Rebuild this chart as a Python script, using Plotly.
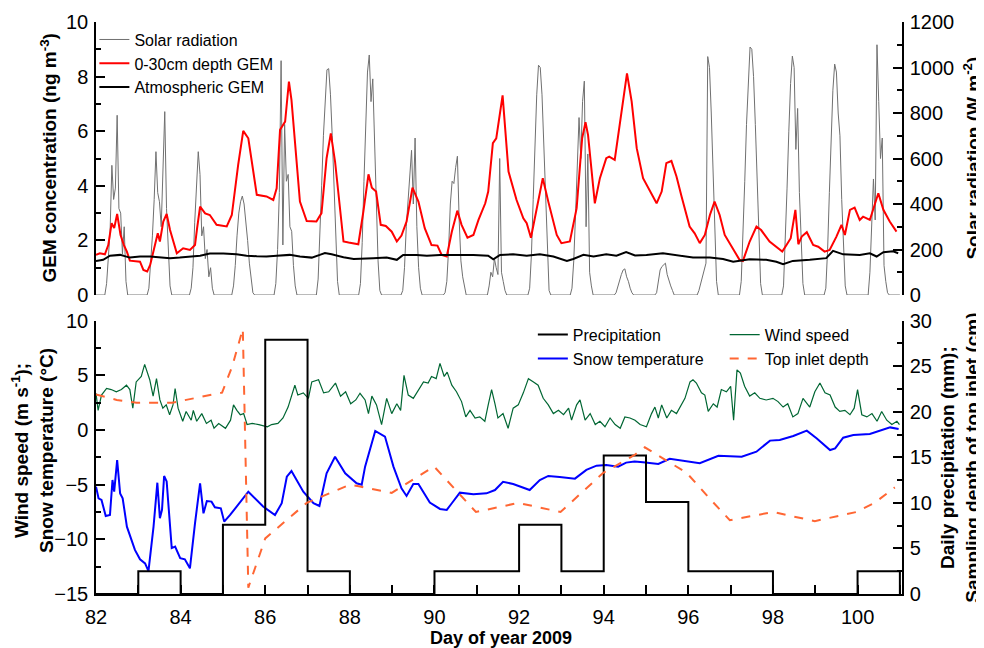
import plotly.graph_objects as go

# ---------------- DATA ----------------
# Solar radiation (W m-2), hourly readings from 05:00 to 19:00 for each day 82..100
solar_days = list(range(82, 101))
solar_hours = [5, 6, 7, 8, 9, 10, 11, 12, 13, 14, 15, 16, 17, 18, 19]
solar_hourly = [
    [0, 50, 150, 280, 570, 420, 470, 790, 380, 360, 180, 300, 60, 0, 0],      # 82
    [0, 30, 130, 260, 420, 630, 450, 410, 300, 600, 806, 380, 180, 40, 0],    # 83
    [0, 30, 120, 320, 450, 630, 530, 260, 300, 160, 200, 80, 120, 30, 0],     # 84
    [0, 40, 130, 260, 360, 410, 435, 400, 330, 240, 140, 60, 10, 0, 0],       # 85
    [0, 50, 200, 450, 1030, 220, 750, 500, 530, 300, 280, 130, 40, 0, 0],     # 86
    [0, 70, 250, 480, 700, 860, 990, 995, 880, 700, 470, 240, 60, 0, 0],      # 87
    [0, 50, 230, 500, 800, 980, 1055, 850, 950, 650, 400, 150, 20, 0, 0],     # 88
    [0, 20, 120, 300, 420, 520, 636, 400, 690, 300, 120, 30, 0, 0, 0],        # 89
    [0, 10, 60, 200, 400, 500, 490, 560, 610, 330, 150, 80, 30, 0, 0],        # 90
    [0, 0, 40, 100, 80, 160, 120, 90, 600, 100, 60, 20, 0, 0, 0],             # 91
    [0, 30, 180, 420, 680, 880, 1010, 1000, 880, 660, 400, 160, 20, 0, 0],    # 92
    [0, 30, 150, 350, 550, 780, 600, 850, 940, 300, 620, 100, 40, 0, 0],      # 93
    [0, 0, 10, 40, 70, 90, 110, 115, 80, 60, 30, 10, 0, 0, 0],                # 94
    [0, 10, 60, 110, 125, 135, 140, 90, 60, 40, 20, 0, 0, 0, 0],              # 95
    [0, 20, 50, 80, 110, 140, 1048, 1000, 800, 530, 260, 60, 0, 0, 0],        # 96
    [0, 60, 250, 500, 750, 960, 1090, 1080, 960, 750, 490, 240, 50, 0, 0],    # 97
    [0, 40, 220, 470, 720, 930, 1050, 1000, 640, 820, 450, 220, 50, 0, 0],    # 98
    [0, 30, 200, 450, 700, 900, 1015, 980, 800, 700, 420, 200, 40, 0, 0],     # 99
    [0, 0, 100, 300, 510, 330, 1100, 850, 600, 690, 130, 60, 10, 0, 0],       # 100
]

# 0-30 cm depth GEM (ng m-3)
depth_gem_day = [82.0, 82.09, 82.21, 82.29, 82.37, 82.43, 82.5, 82.58, 82.66, 82.73, 82.8, 82.92, 83.04, 83.12,
                 83.21, 83.28, 83.4, 83.46, 83.51, 83.59, 83.67, 83.75, 83.91, 84.06, 84.22, 84.34, 84.39, 84.46,
                 84.58, 84.69, 84.85, 84.97, 85.09, 85.21, 85.36, 85.48, 85.6, 85.8, 86.03, 86.19, 86.27, 86.35,
                 86.47, 86.56, 86.62, 86.82, 86.98, 87.21, 87.33, 87.45, 87.55, 87.65, 87.85, 87.97, 88.2, 88.32,
                 88.44, 88.52, 88.62, 88.73, 88.85, 88.99, 89.11, 89.22, 89.34, 89.48, 89.62, 89.77, 89.93, 90.07,
                 90.17, 90.29, 90.41, 90.54, 90.64, 90.78, 90.92, 91.04, 91.2, 91.27, 91.38, 91.46, 91.61, 91.75,
                 91.94, 92.1, 92.18, 92.28, 92.41, 92.56, 92.69, 92.89, 93.0, 93.2, 93.36, 93.49, 93.57, 93.63,
                 93.79, 93.91, 94.06, 94.13, 94.26, 94.38, 94.55, 94.66, 94.78, 94.93, 95.13, 95.25, 95.37, 95.48,
                 95.6, 95.72, 95.84, 96.03, 96.15, 96.27, 96.39, 96.51, 96.62, 96.74, 96.86, 97.02, 97.21, 97.29,
                 97.45, 97.61, 97.72, 97.92, 98.08, 98.22, 98.32, 98.42, 98.53, 98.6, 98.68, 98.8, 98.95, 99.07,
                 99.22, 99.34, 99.5, 99.62, 99.7, 99.82, 99.93, 100.05, 100.13, 100.29, 100.49, 100.61, 100.76,
                 100.92]
depth_gem = [1.47, 1.53, 1.49, 1.83, 2.63, 2.45, 2.97, 2.2, 1.83, 1.59, 1.26, 1.25, 1.22, 0.92,
             0.86, 1.1, 1.83, 2.26, 1.96, 2.69, 2.97, 2.38, 1.53, 1.71, 1.65, 1.83, 2.45, 3.24,
             2.99, 2.93, 2.57, 2.54, 2.51, 2.93, 4.77, 6.01, 5.74, 3.67, 3.61, 3.48, 3.91, 6.05,
             6.35, 7.82, 7.15, 3.42, 2.71, 2.69, 3.0, 5.01, 5.92, 4.89, 1.96, 1.92, 1.86, 3.06,
             4.42, 3.93, 3.79, 2.57, 2.53, 2.32, 1.96, 2.18, 2.69, 3.93, 3.42, 2.45, 1.83, 1.81,
             1.47, 1.41, 2.32, 3.09, 2.57, 2.1, 2.2, 2.75, 3.36, 3.79, 5.56, 5.74, 7.31, 4.52,
             3.48, 2.81, 2.63, 2.1, 3.06, 4.28, 3.42, 2.2, 1.9, 1.96, 3.18, 5.74, 6.33, 5.86,
             3.36, 4.28, 5.01, 5.07, 4.95, 6.23, 8.12, 7.09, 5.38, 4.28, 3.73, 3.36, 3.79, 4.83,
             4.91, 4.34, 3.61, 2.51, 2.26, 1.9, 2.2, 2.93, 3.42, 2.93, 2.2, 1.77, 1.29, 1.25,
             1.96, 2.51, 2.38, 1.96, 1.77, 1.59, 1.83, 2.08, 3.12, 1.86, 2.14, 2.3, 1.83, 1.77,
             1.59, 1.65, 2.14, 2.57, 2.2, 3.12, 3.2, 2.75, 2.87, 2.75, 3.73, 3.12, 2.69,
             2.32]

# Atmospheric GEM (ng m-3)
atm_gem_day = [82.0, 82.17, 82.33, 82.57, 82.8, 83.04, 83.28, 83.55, 83.75, 83.98, 84.22, 84.46, 84.69, 85.01,
               85.32, 85.56, 85.8, 86.03, 86.27, 86.58, 86.82, 87.1, 87.29, 87.41, 87.57, 87.85, 88.09, 88.33,
               88.55, 88.87, 89.11, 89.26, 89.58, 89.82, 90.13, 90.52, 90.92, 91.27, 91.39, 91.55, 91.86, 92.18,
               92.49, 92.81, 93.13, 93.28, 93.52, 93.76, 94.06, 94.3, 94.53, 94.74, 95.01, 95.4, 95.72, 96.11,
               96.51, 96.82, 97.06, 97.45, 97.84, 98.08, 98.24, 98.47, 98.87, 99.26, 99.42, 99.66, 100.05,
               100.29, 100.45, 100.61, 100.84, 100.96]
atm_gem = [1.25, 1.29, 1.44, 1.47, 1.37, 1.41, 1.41, 1.37, 1.35, 1.37, 1.40, 1.44, 1.52, 1.52,
           1.49, 1.44, 1.42, 1.41, 1.44, 1.47, 1.41, 1.37, 1.47, 1.54, 1.49, 1.38, 1.32, 1.35,
           1.35, 1.37, 1.29, 1.47, 1.47, 1.44, 1.47, 1.47, 1.47, 1.44, 1.31, 1.47, 1.49, 1.44,
           1.49, 1.41, 1.25, 1.32, 1.47, 1.41, 1.49, 1.44, 1.57, 1.45, 1.47, 1.53, 1.47, 1.37,
           1.37, 1.32, 1.22, 1.31, 1.29, 1.22, 1.13, 1.25, 1.29, 1.35, 1.62, 1.49, 1.47,
           1.53, 1.41, 1.57, 1.6, 1.53]

# Daily precipitation (mm), day start edges
precip_day = [82, 83, 84, 85, 86, 87, 88, 89, 90, 91, 92, 93, 94, 95, 96, 97, 98, 99, 100, 101]
precip_mm = [0, 2.5, 0, 7.6, 27.9, 2.5, 0, 0, 2.5, 2.5, 7.6, 2.5, 15.2, 10.1, 2.5, 2.5, 0, 0, 2.5, 0]

# Sampling depth of top inlet (cm)
inlet_day = [82.0, 82.49, 82.96, 83.8, 84.98, 85.22, 85.47, 85.6, 85.8, 86.0, 86.98, 88.0, 88.24, 88.99, 89.99,
             90.98, 91.98, 92.98, 93.99, 94.74, 94.97, 95.96, 96.5, 96.98, 98.0, 98.99, 99.97, 100.4, 100.88]
inlet_cm = [21.9, 21.3, 21.0, 21.0, 22.1, 25.0, 29.1, 0.7, 3.4, 6.1, 10.0, 12.0, 11.8, 11.1, 14.0,
            9.0, 10.0, 9.0, 13.3, 15.3, 16.1, 13.3, 10.5, 8.1, 9.0, 8.0, 9.0, 10.0, 11.7]

# Snow temperature (deg C)
snow_day = [82.0, 82.06, 82.13, 82.23, 82.33, 82.39, 82.43, 82.5, 82.57, 82.63, 82.73, 82.84, 82.92, 83.04,
            83.16, 83.24, 83.36, 83.45, 83.51, 83.56, 83.61, 83.67, 83.79, 83.87, 83.99, 84.1, 84.22, 84.34,
            84.46, 84.54, 84.62, 84.73, 84.81, 84.95, 85.03, 85.17, 85.32, 85.6, 85.95, 86.23, 86.39, 86.51,
            86.62, 86.9, 87.14, 87.28, 87.45, 87.65, 87.89, 88.16, 88.28, 88.36, 88.6, 88.71, 88.83, 89.03,
            89.22, 89.34, 89.5, 89.62, 89.89, 90.13, 90.29, 90.41, 90.6, 90.92, 91.23, 91.43, 91.62, 91.86,
            92.25, 92.49, 92.69, 92.96, 93.32, 93.59, 93.83, 94.06, 94.34, 94.53, 94.73, 94.93, 95.29, 95.56,
            95.88, 96.27, 96.71, 97.26, 97.61, 97.93, 98.16, 98.48, 98.8, 99.03, 99.35, 99.47, 99.66, 99.9,
            100.29, 100.61, 100.77, 100.97]
snow_temp = [-5.18, -6.24, -6.4, -7.86, -7.77, -4.57, -5.64, -2.74, -5.8, -6.24, -8.84, -10.06, -10.97, -11.83,
             -12.2, -12.9, -8.84, -4.82, -8.07, -7.3, -4.2, -4.7, -10.8, -10.66, -11.73, -11.83, -12.65, -8.53,
             -4.87, -7.62, -6.5, -6.55, -7.07, -7.16, -8.38, -7.77, -7.0, -5.64, -7.0, -7.77, -6.7, -4.27,
             -3.75, -5.64, -6.7, -6.95, -3.96, -2.44, -3.96, -4.87, -5.0, -3.35, -0.09, -0.3, -0.6, -3.35,
             -5.33, -6.03, -4.94, -4.94, -6.64, -7.22, -7.31, -6.7, -5.73, -5.88, -5.79, -5.49, -4.73, -4.94,
             -5.49, -4.57, -4.2, -4.3, -4.45, -3.65, -3.26, -3.2, -3.35, -2.98, -2.89, -2.95, -3.1, -2.64,
             -2.83, -3.04, -2.35, -2.44, -1.98, -0.97, -0.91, -0.55, -0.06, -0.76, -1.83, -1.68, -0.7, -0.46,
             -0.37, 0.0, 0.24, 0.09]

# Wind speed (m s-1)
wind_day = [82.0, 82.05, 82.13, 82.25, 82.36, 82.48, 82.6, 82.72, 82.8, 82.87, 82.95, 83.07, 83.15, 83.22,
            83.27, 83.35, 83.43, 83.51, 83.58, 83.66, 83.74, 83.82, 83.87, 83.94, 84.05, 84.13, 84.25, 84.3,
            84.38, 84.5, 84.61, 84.72, 84.79, 84.9, 85.06, 85.18, 85.25, 85.33, 85.41, 85.49, 85.57, 85.69,
            85.85, 86.05, 86.15, 86.3, 86.42, 86.54, 86.62, 86.7, 86.77, 86.9, 87.02, 87.1, 87.26, 87.38,
            87.5, 87.66, 87.78, 87.9, 88.02, 88.14, 88.24, 88.36, 88.44, 88.52, 88.63, 88.75, 88.87, 88.99,
            89.11, 89.2, 89.28, 89.38, 89.5, 89.62, 89.74, 89.85, 89.93, 90.04, 90.13, 90.23, 90.3, 90.41,
            90.52, 90.64, 90.74, 90.84, 90.96, 91.07, 91.19, 91.27, 91.35, 91.43, 91.5, 91.62, 91.74, 91.86,
            91.98, 92.1, 92.22, 92.34, 92.45, 92.57, 92.69, 92.81, 92.93, 93.05, 93.17, 93.24, 93.36, 93.44,
            93.56, 93.68, 93.8, 93.91, 94.03, 94.15, 94.27, 94.39, 94.5, 94.62, 94.74, 94.86, 95.01, 95.13,
            95.21, 95.29, 95.37, 95.49, 95.6, 95.72, 95.84, 95.92, 96.04, 96.11, 96.19, 96.31, 96.39, 96.47,
            96.59, 96.68, 96.78, 96.9, 97.0, 97.07, 97.15, 97.23, 97.33, 97.45, 97.57, 97.69, 97.84, 98.0,
            98.12, 98.24, 98.35, 98.47, 98.59, 98.71, 98.87, 98.99, 99.11, 99.23, 99.35, 99.47, 99.58, 99.7,
            99.82, 99.92, 100.0, 100.1, 100.22, 100.34, 100.46, 100.57, 100.69, 100.81, 100.93, 100.99]
wind_speed = [3.36, 1.8, 3.2, 3.8, 3.7, 3.5, 3.7, 4.1, 3.7, 2.0, 4.4, 4.9, 6.0, 5.2,
              4.6, 3.1, 4.7, 2.75, 2.0, 2.3, 1.4, 2.3, 3.8, 2.0, 0.8, 1.7, 0.9, 1.8,
              0.8, 1.5, 0.6, 0.9, 0.16, 0.6, 0.16, 0.9, 2.3, 1.8, 1.4, 1.5, 0.5, 0.6,
              0.5, 0.3, 0.5, 0.6, 1.1, 2.1, 3.1, 4.1, 3.2, 3.4, 2.9, 4.4, 4.6, 3.4,
              3.5, 4.3, 3.1, 3.5, 2.4, 2.75, 3.36, 2.75, 1.5, 3.1, 2.3, 0.5, 2.9, 1.5,
              2.4, 1.8, 5.0, 3.2, 2.9, 3.7, 4.4, 4.3, 4.9, 4.7, 6.1, 4.9, 5.3, 4.1,
              3.5, 2.6, 1.2, 1.8, 1.1, 1.2, 0.8, 2.3, 3.7, 2.4, 1.1, 1.5, 0.16, 2.0,
              2.3, 3.4, 4.7, 4.4, 4.1, 2.9, 2.3, 1.5, 1.8, 1.4, 2.0, 0.9, 2.3, 2.75,
              0.9, 1.5, 0.5, 0.8, 0.3, 1.1, 0.5, 0.16, 1.2, 1.1, 0.9, 0.5, 0.3, 1.5,
              2.1, 1.1, 2.3, 1.1, 1.8, 1.5, 2.3, 2.9, 4.4, 4.6, 4.3, 3.4, 3.2, 1.7,
              2.4, 2.1, 3.7, 3.5, 4.0, 0.9, 5.5, 5.2, 4.0, 3.1, 3.4, 2.9, 2.75, 2.9,
              2.6, 2.1, 2.4, 1.2, 1.5, 2.9, 2.1, 3.5, 4.3, 3.4, 3.2, 2.1, 1.7, 1.8,
              1.4, 2.0, 3.7, 1.4, 1.2, 1.5, 0.8, 1.7, 0.9, 0.5, 0.8, 0.5]

# ---------------- BUILD ----------------
solar_t = [82.0]
solar_v = [0]
for d, row in zip(solar_days, solar_hourly):
    for h, v in zip(solar_hours, row):
        solar_t.append(d + h / 24.0)
        solar_v.append(v)
solar_t.append(101.0)
solar_v.append(0)

FONT = "Liberation Sans, Arial, Helvetica, sans-serif"
TOP_DOM = [0.5227, 1.0]
BOT_DOM = [0.0, 0.4778]

fig = go.Figure()

# top panel
fig.add_trace(go.Scatter(x=solar_t, y=solar_v, xaxis="x2", yaxis="y", mode="lines",
                         name="Solar radiation", line=dict(color="#707070", width=1), legend="legend"))
fig.add_trace(go.Scatter(x=depth_gem_day, y=depth_gem, xaxis="x2", yaxis="y2", mode="lines",
                         name="0-30cm depth GEM", line=dict(color="#FF0000", width=2), legend="legend"))
fig.add_trace(go.Scatter(x=atm_gem_day, y=atm_gem, xaxis="x2", yaxis="y2", mode="lines",
                         name="Atmospheric GEM", line=dict(color="#000000", width=2), legend="legend"))

# bottom panel
fig.add_trace(go.Scatter(x=wind_day, y=wind_speed, xaxis="x", yaxis="y3", mode="lines",
                         name="Wind speed", line=dict(color="#006633", width=1.2), legend="legend3"))
fig.add_trace(go.Scatter(x=snow_day, y=snow_temp, xaxis="x", yaxis="y3", mode="lines",
                         name="Snow temperature", line=dict(color="#0000FF", width=2), legend="legend2"))
fig.add_trace(go.Scatter(x=precip_day, y=precip_mm, xaxis="x", yaxis="y4", mode="lines",
                         line_shape="hv", name="Precipitation", line=dict(color="#000000", width=2),
                         legend="legend2"))
fig.add_trace(go.Scatter(x=inlet_day, y=inlet_cm, xaxis="x", yaxis="y4", mode="lines",
                         name="Top inlet depth", line=dict(color="#FF6633", width=2, dash="dash"),
                         legend="legend3"))

axis_common = dict(showgrid=False, zeroline=False, showline=True, linecolor="black", linewidth=1.5,
                   ticks="inside", ticklen=9, tickwidth=1.5, tickcolor="black", automargin=False,
                   tickfont=dict(family=FONT, size=20, color="black"))

fig.update_layout(
    width=976, height=640,
    margin=dict(l=88, r=82, t=14, b=54, autoexpand=False),
    paper_bgcolor="white", plot_bgcolor="white",
    font=dict(family=FONT, color="black"),
    xaxis=dict(domain=[0, 1], anchor="y3", range=[82, 101.05], dtick=2, tick0=82,
               minor=dict(ticks="inside", ticklen=9, tickwidth=1.5, tickcolor="black", dtick=1, tick0=82),
               ticklabelstandoff=4, **axis_common),
    xaxis2=dict(domain=[0, 1], anchor="y", matches="x", range=[82, 101.05], visible=False),
    yaxis=dict(domain=TOP_DOM, anchor="x2", side="right", range=[0, 1200], dtick=200,
               minor=dict(ticks="inside", ticklen=5, tickwidth=1.5, tickcolor="black", dtick=100),
               ticklabelstandoff=2, **axis_common),
    yaxis2=dict(domain=TOP_DOM, anchor="x2", overlaying="y", side="left", range=[0, 10], dtick=2,
                minor=dict(ticks="inside", ticklen=5, tickwidth=1.5, tickcolor="black", dtick=1),
                ticklabelstandoff=2, **axis_common),
    yaxis3=dict(domain=BOT_DOM, anchor="x", side="left", range=[-15, 10], dtick=5,
                minor=dict(ticks="inside", ticklen=5, tickwidth=1.5, tickcolor="black", dtick=2.5),
                ticklabelstandoff=2, **axis_common),
    yaxis4=dict(domain=BOT_DOM, anchor="x", overlaying="y3", side="right", range=[0, 30], dtick=5,
                minor=dict(ticks="inside", ticklen=5, tickwidth=1.5, tickcolor="black", dtick=2.5),
                ticklabelstandoff=2, **axis_common),
    legend=dict(x=-0.002, y=0.999, xanchor="left", yanchor="top", bgcolor="rgba(0,0,0,0)",
                font=dict(family=FONT, size=16, color="black"), traceorder="normal"),
    legend2=dict(x=0.542, y=0.483, xanchor="left", yanchor="top", bgcolor="rgba(0,0,0,0)",
                 font=dict(family=FONT, size=16, color="black"), traceorder="reversed"),
    legend3=dict(x=0.780, y=0.483, xanchor="left", yanchor="top", bgcolor="rgba(0,0,0,0)",
                 font=dict(family=FONT, size=16, color="black"), traceorder="normal"),
    showlegend=True,
)

ann_font = dict(family=FONT, size=19, color="black")
fig.add_annotation(text="<b>GEM concentration (ng m<sup>-3</sup>)</b>", xref="paper", yref="paper",
                   x=-0.0583, y=0.7614, textangle=-90, showarrow=False, font=ann_font,
                   xanchor="center", yanchor="middle")
fig.add_annotation(text="<b>Solar radiation (W m<sup>-2</sup>)</b>", xref="paper", yref="paper",
                   x=1.087, y=0.7614, textangle=-90, showarrow=False, font=ann_font,
                   xanchor="center", yanchor="middle")
fig.add_annotation(text="<b>Wind speed (m s<sup>-1</sup>);<br>Snow temperature (°C)</b>", xref="paper",
                   yref="paper", x=-0.0795, y=0.2517, textangle=-90, showarrow=False, font=ann_font,
                   xanchor="center", yanchor="middle")
fig.add_annotation(text="<b>Daily precipitation (mm);<br>Sampling depth of top inlet (cm)</b>", xref="paper",
                   yref="paper", x=1.0725, y=0.239, textangle=-90, showarrow=False, font=ann_font,
                   xanchor="center", yanchor="middle")
fig.add_annotation(text="<b>Day of year 2009</b>", xref="paper", yref="paper", x=0.5025, y=-0.077,
                   showarrow=False, font=dict(family=FONT, size=18, color="black"),
                   xanchor="center", yanchor="middle")

fig.write_html("out.html")
